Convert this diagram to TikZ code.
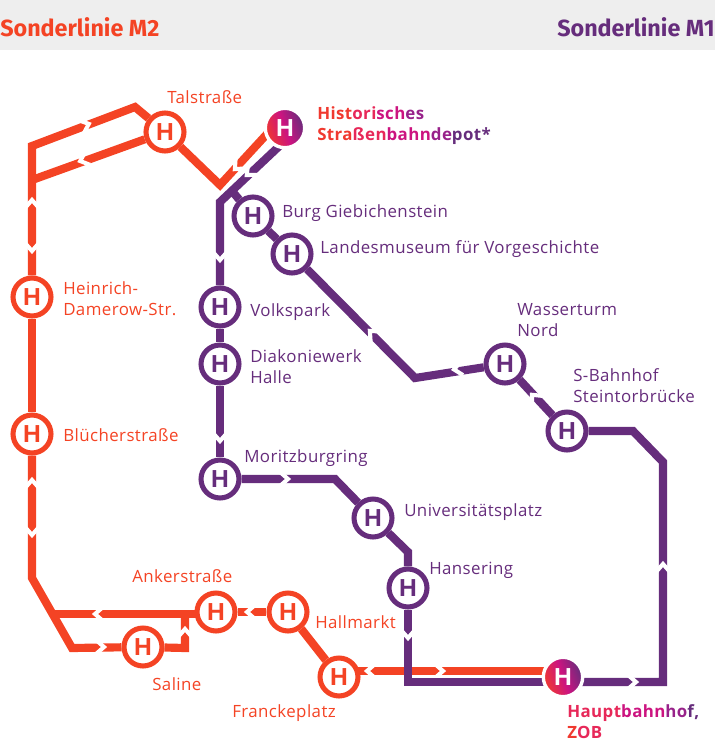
\documentclass[tikz,border=0pt]{standalone}
\usepackage{fontspec}
\setmainfont[LetterSpace=2.5]{Open Sans}
\newfontfamily\bandfont{Fira Sans}
\newfontfamily\stationfont{Liberation Sans}
\usetikzlibrary{backgrounds}
\definecolor{linered}{HTML}{F44324}
\definecolor{linepurple}{HTML}{662D7C}
\definecolor{bandgray}{HTML}{EEEEEE}
\definecolor{mixa}{HTML}{F0392F}
\definecolor{mixb}{HTML}{E72859}
\definecolor{mixc}{HTML}{CC1480}
\definecolor{mixd}{HTML}{98228A}
\definecolor{mixe}{HTML}{662D7C}
\newcommand{\labelfont}{\fontsize{12}{15}\selectfont}
\tikzset{
  redline/.style={linered, line width=5.8pt},
  purpleline/.style={linepurple, line width=5.8pt},
  stationbase/.style={circle, fill=white, line width=3.6pt, minimum size=27pt, inner sep=0pt,
    font=\stationfont\fontsize{17.5}{17.5}\selectfont\bfseries},
  redstation/.style={stationbase, draw=linered, text=linered},
  purplestation/.style={stationbase, draw=linepurple, text=linepurple},
  mixstation/.style={circle, draw=white, line width=2.4pt, minimum size=28pt, inner sep=0pt,
    left color=mixa, right color=mixe, middle color=mixc, shading angle=110, text=white,
    font=\stationfont\fontsize{17.5}{17.5}\selectfont\bfseries},
  redlabel/.style={anchor=west, inner sep=0pt, align=left, text=linered, font=\labelfont},
  purplelabel/.style={anchor=west, inner sep=0pt, align=left, text=linepurple, font=\labelfont},
  mixlabel/.style={anchor=west, inner sep=0pt, align=left, font=\labelfont\bfseries},
  bandlabel/.style={inner sep=0pt, font=\bandfont\fontsize{16.6}{18}\selectfont\bfseries},
  gapmark/.pic={\draw[white, line width=2.9pt] (-5,-7) -- (3,0) -- (-5,7);}
}
\begin{document}
\begin{tikzpicture}[x=0.025cm, y=-0.025cm]
\useasboundingbox (0,0) rectangle (715,749);

\node[bandlabel, anchor=west, text=linered] (titlered) at (0,27) {Sonderlinie M2};
\node[bandlabel, anchor=east, text=linepurple] (titlepurple) at (715,27) {Sonderlinie M1};

\node[redstation] (tal) at (165,132) {H};
\node[redstation] (heinrich) at (32,297) {H};
\node[redstation] (bluecher) at (32,434) {H};
\node[redstation] (anker) at (216,612) {H};
\node[redstation] (saline) at (143,647) {H};
\node[redstation] (hallmarkt) at (288,612) {H};
\node[redstation] (franckeplatz) at (339,677) {H};

\node[purplestation] (burg) at (253,216) {H};
\node[purplestation] (landesmuseum) at (292,254) {H};
\node[purplestation] (volkspark) at (220,307) {H};
\node[purplestation] (diakonie) at (220,364) {H};
\node[purplestation] (moritz) at (220,479) {H};
\node[purplestation] (uni) at (373,518) {H};
\node[purplestation] (hansering) at (408,588) {H};
\node[purplestation] (wasserturm) at (505,364) {H};
\node[purplestation] (steintor) at (567,431) {H};

\node[mixstation] (depot) at (285,128) {H};
\node[mixstation] (hbf) at (563,677) {H};

\coordinate (redtop) at (135,107);
\coordinate (redcorner) at (32,146);
\coordinate (redfork) at (32,180);
\coordinate (redbend) at (32,578);
\coordinate (redfoot) at (72,648);
\coordinate (ankerfork) at (53,614);
\coordinate (ankerend) at (216,614);
\coordinate (salinecorner) at (185,648);
\coordinate (salineup) at (185,614);
\coordinate (talvalley) at (220,185);
\coordinate (depotred) at (278,122);
\coordinate (franckered) at (339,671);
\coordinate (hbfred) at (563,671);

\coordinate (depotpurple) at (290,136);
\coordinate (purplecorner) at (220,202);
\coordinate (burgfork) at (232,191);
\coordinate (museumfoot) at (415,378);
\coordinate (steintorright) at (633,431);
\coordinate (rightupper) at (663,462);
\coordinate (rightlower) at (663,682);
\coordinate (hanseringfoot) at (408,682);
\coordinate (hbfpurple) at (563,682);
\coordinate (moritzright) at (335,479);
\coordinate (unibelow) at (408,552);

\begin{scope}[on background layer]
\fill[bandgray] (0,0) rectangle (715,50);

\draw[redline] (tal) -- (redtop) -- (redcorner) -- (heinrich);
\draw[redline] (redfork) -- (tal);
\draw[redline] (heinrich) -- (bluecher);
\draw[redline] (bluecher) -- (redbend) -- (redfoot) -- (saline);
\draw[redline] (saline) -- (salinecorner) -- (salineup);
\draw[redline] (ankerfork) -- (ankerend);
\draw[redline] (anker) -- (hallmarkt);
\draw[redline] (hallmarkt) -- (franckeplatz);
\draw[redline] (franckered) -- (hbfred);
\draw[redline] (tal) -- (talvalley) -- (depotred);

\pic[rotate=21] at (86,125) {gapmark};
\pic[rotate=200] at (83,160) {gapmark};
\pic[rotate=90] at (32,203) {gapmark};
\pic[rotate=270] at (32,248) {gapmark};
\pic[rotate=90] at (32,483) {gapmark};
\pic[rotate=270] at (32,532) {gapmark};
\pic[rotate=180] at (98,614) {gapmark};
\pic[rotate=0] at (101,647) {gapmark};
\pic[rotate=90] at (185,632) {gapmark};
\pic[rotate=180] at (250,612) {gapmark};
\pic[rotate=225] at (237,167) {gapmark};
\pic[rotate=0] at (440,671) {gapmark};
\pic[rotate=180] at (370,671) {gapmark};

\draw[purpleline] (depotpurple) -- (purplecorner) -- (volkspark);
\draw[purpleline] (volkspark) -- (diakonie);
\draw[purpleline] (diakonie) -- (moritz);
\draw[purpleline] (moritz) -- (moritzright) -- (uni);
\draw[purpleline] (uni) -- (unibelow) -- (hansering);
\draw[purpleline] (hansering) -- (hanseringfoot) -- (hbfpurple);
\draw[purpleline] (hbfpurple) -- (rightlower) -- (rightupper) -- (steintorright) -- (steintor);
\draw[purpleline] (burgfork) -- (burg);
\draw[purpleline] (burg) -- (landesmuseum);
\draw[purpleline] (landesmuseum) -- (museumfoot) -- (wasserturm);
\draw[purpleline] (wasserturm) -- (steintor);

\pic[rotate=222] at (249,173) {gapmark};
\pic[rotate=270] at (220,257) {gapmark};
\pic[rotate=270] at (220,438) {gapmark};
\pic[rotate=0] at (285,479) {gapmark};
\pic[rotate=135] at (372,333) {gapmark};
\pic[rotate=189] at (457,369) {gapmark};
\pic[rotate=133] at (534,397) {gapmark};
\pic[rotate=90] at (663,567) {gapmark};
\pic[rotate=0] at (633,682) {gapmark};
\pic[rotate=270] at (408,635) {gapmark};
\end{scope}

\node[redlabel] (taltext) at (167,97) {Talstraße};
\node[redlabel] (heinrichtext) at (63,299) {Heinrich-\\Damerow-Str.};
\node[redlabel] (bluechertext) at (63,435) {Blücherstraße};
\node[redlabel] (ankertext) at (132,576) {Ankerstraße};
\node[redlabel] (hallmarkttext) at (315,622) {Hallmarkt};
\node[redlabel] (salinetext) at (152,684) {Saline};
\node[redlabel] (franckeplatztext) at (232,713) {Franckeplatz};

\node[purplelabel] (burgtext) at (282,213) {Burg Giebichenstein};
\node[purplelabel] (landesmuseumtext) at (320,249) {Landesmuseum für Vorgeschichte};
\node[purplelabel] (volksparktext) at (250,312) {Volkspark};
\node[purplelabel] (diakonietext) at (250,367) {Diakoniewerk\\Halle};
\node[purplelabel] (moritztext) at (244,458) {Moritzburgring};
\node[purplelabel] (unitext) at (404,512) {Universitätsplatz};
\node[purplelabel] (hanseringtext) at (429,570) {Hansering};
\node[purplelabel] (wasserturmtext) at (517,320) {Wasserturm\\Nord};
\node[purplelabel] (steintortext) at (573,386) {S-Bahnhof\\Steintorbrücke};

\node[mixlabel] (depottext) at (317,126) {\textcolor{mixa}{Hist}\textcolor{mixb}{ori}\textcolor{mixc}{sch}\textcolor{mixd}{es}\\
  \textcolor{mixa}{Stra}\textcolor{mixb}{ßen}\textcolor{mixc}{bahn}\textcolor{mixd}{de}\textcolor{mixe}{pot*}};
\node[mixlabel] (hbftext) at (567,722) {\textcolor{mixb}{Haupt}\textcolor{mixc}{bahn}\textcolor{mixd}{ho}\textcolor{mixe}{f,}\\
  \textcolor{mixa}{Z}\textcolor{mixb}{OB}};
\end{tikzpicture}
\end{document}
